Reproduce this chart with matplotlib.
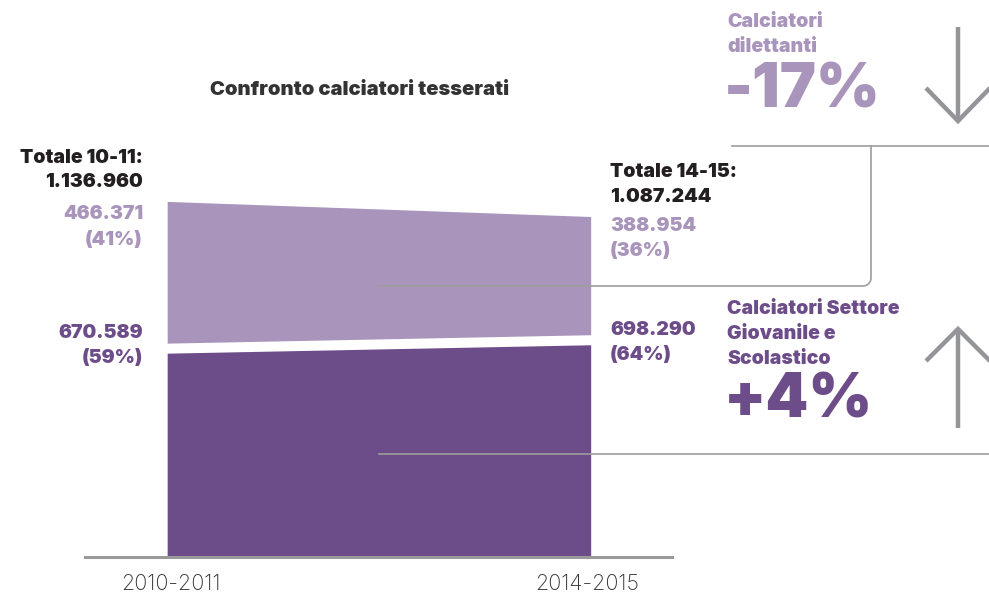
import numpy as np
import matplotlib
matplotlib.use("Agg")
import matplotlib.pyplot as plt
from matplotlib.transforms import ScaledTranslation

# Data: registered players, 2010-2011 vs 2014-2015
seasons = ["2010-2011", "2014-2015"]
season_short = ["10-11", "14-15"]
giovanile = [670589, 698290]      # Settore Giovanile e Scolastico
dilettanti = [466371, 388954]     # dilettanti

LIGHT = "#a995bb"
DARK = "#6d4c8a"
INK = "#231f20"
GREY = "#939598"
FONT = "Inter"

def fmt(v):
    return f"{v:,}".replace(",", ".")

totals = [g + d for g, d in zip(giovanile, dilettanti)]
pct_dil = [round(100 * d / t) for d, t in zip(dilettanti, totals)]
pct_gio = [round(100 * g / t) for g, t in zip(giovanile, totals)]
chg_dil = round(100 * (dilettanti[1] / dilettanti[0] - 1))
chg_gio = round(100 * (giovanile[1] / giovanile[0] - 1))

W, H = 989, 592
fig = plt.figure(figsize=(W / 100, H / 100), dpi=100)

# main stacked area chart (small white gap between the two bands)
ax = fig.add_axes([85 / W, 35 / H, 587 / W, 500 / H])
x = np.arange(len(seasons))
gap = 33000
lower = np.array(giovanile)
upper_base = lower + gap
ax.fill_between(x, 0, lower, color=DARK, lw=0)
ax.fill_between(x, upper_base, upper_base + np.array(dilettanti), color=LIGHT, lw=0)
ax.set_xlim(-0.194, 1.192)
ax.set_ylim(0, 500 * 3290)
for s in ["top", "left", "right"]:
    ax.spines[s].set_visible(False)
ax.spines["bottom"].set_color("#9a9a9a")
ax.spines["bottom"].set_linewidth(2.2)
ax.set_yticks([])
ax.set_xticks(x)
ax.set_xticklabels(seasons, fontfamily=FONT, fontweight="light", fontsize=15.5, color="#333333")
ax.tick_params(axis="x", length=0, pad=12)
# pull the season labels slightly inward
for lbl, dx in zip(ax.get_xticklabels(), [4, -4]):
    lbl.set_transform(lbl.get_transform() + ScaledTranslation(dx / 100, 0, fig.dpi_scale_trans))

# overlay for annotations in pixel space
ov = fig.add_axes([0, 0, 1, 1], facecolor="none")
ov.set_xlim(0, W)
ov.set_ylim(H, 0)
ov.axis("off")

def t(xp, yp, s, color, size=14, ha="left", weight="black"):
    ov.text(xp, yp, s, color=color, fontsize=size, ha=ha, va="center",
            fontfamily=FONT, fontweight=weight)

t(210, 90, "Confronto calciatori tesserati", "#333333", size=14.5)

# left labels
t(143, 158, f"Totale {season_short[0]}:", INK, ha="right")
t(143, 182, fmt(totals[0]), INK, ha="right")
t(143, 214, fmt(dilettanti[0]), LIGHT, ha="right")
t(143, 240, f"({pct_dil[0]}%)", LIGHT, ha="right")
t(143, 333, fmt(giovanile[0]), DARK, ha="right")
t(143, 358, f"({pct_gio[0]}%)", DARK, ha="right")

# right labels
t(610, 172, f"Totale {season_short[1]}:", INK)
t(610, 197, fmt(totals[1]), INK)
t(610, 226, fmt(dilettanti[1]), LIGHT)
t(610, 251, f"({pct_dil[1]}%)", LIGHT)
t(610, 330, fmt(giovanile[1]), DARK)
t(610, 355, f"({pct_gio[1]}%)", DARK)

# change callouts
t(727, 22, "Calciatori", LIGHT)
t(727, 47, "dilettanti", LIGHT)
t(724, 91, f"{chg_dil}%", LIGHT, size=44)

t(727, 309, "Calciatori Settore", DARK)
t(727, 334, "Giovanile e", DARK)
t(727, 359, "Scolastico", DARK)
t(724, 401, f"+{chg_gio}%", DARK, size=44)

# arrows
arrow_kw = dict(color=GREY, lw=3.2, solid_capstyle="butt", solid_joinstyle="miter")
ov.plot([958, 958], [27, 122], **arrow_kw)
ov.plot([926, 958, 990], [88, 121, 88], **arrow_kw)
ov.plot([958, 958], [428, 329], **arrow_kw)
ov.plot([926, 958, 990], [361, 329, 361], **arrow_kw)

# connector lines
line_kw = dict(color="#9d9d9d", lw=1.2)
ov.plot([732, W], [146, 146], **line_kw)
r = 8
ang = np.linspace(0, np.pi / 2, 20)
xs = [871, 871] + list(871 - r + r * np.cos(ang)) + [379]
ys = [146, 286 - r] + list(286 - r + r * np.sin(ang)) + [286]
ov.plot(xs, ys, **line_kw)
ov.plot([379, W], [454, 454], **line_kw)

fig.savefig("out.png", dpi=100)
